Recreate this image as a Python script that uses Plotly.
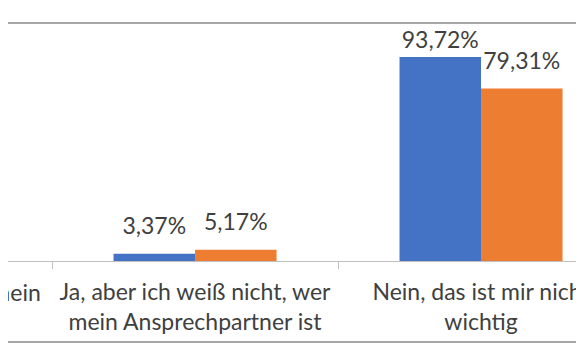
import plotly.graph_objects as go

# ---- data ----
categories = [
    "Ja, und ich weiß, wer mein Ansprechpartner ist",
    "Ja, aber ich weiß nicht, wer mein Ansprechpartner ist",
    "Nein, das ist mir nicht wichtig",
]
tick_labels = [
    "Ja, und ich weiß, wer mein<br>Ansprechpartner ist",
    "Ja, aber ich weiß nicht, wer<br>mein Ansprechpartner ist",
    "Nein, das ist mir nicht<br>wichtig",
]
series_a_name = "Serie 1"
series_b_name = "Serie 2"
series_a = [2.91, 3.37, 93.72]
series_b = [15.52, 5.17, 79.31]

# ---- style ----
BLUE = "#4472C4"
ORANGE = "#ED7D31"
TEXT = "#404040"
FONT = "Lato"
FS = 23
X_RANGE = [0.346, 2.388]
Y_RANGE = [0, 109.4]
GAP = 0.43
label_marker_a = [21, 21, 4]   # controls label lift above bar top
label_marker_b = [21, 21, 21]

fig = go.Figure()
fig.add_trace(go.Bar(x=categories, y=series_a, name=series_a_name,
                     marker=dict(color=BLUE, line=dict(width=0)), hoverinfo="skip"))
fig.add_trace(go.Bar(x=categories, y=series_b, name=series_b_name,
                     marker=dict(color=ORANGE, line=dict(width=0)), hoverinfo="skip"))

for vals, sizes in ((series_a, label_marker_a), (series_b, label_marker_b)):
    fig.add_trace(go.Scatter(
        x=categories, y=vals, mode="markers+text",
        text=[f"{v:.2f}".replace(".", ",") + "%" for v in vals],
        textposition="top center",
        textfont=dict(family=FONT, size=FS, color=TEXT),
        marker=dict(size=sizes, color="rgba(0,0,0,0)", line=dict(width=0)),
        cliponaxis=False, hoverinfo="skip", showlegend=False,
    ))

# label of the category that lies left of the visible window
span = X_RANGE[1] - X_RANGE[0]
fig.add_annotation(
    x=(0 - X_RANGE[0]) / span, xref="paper", xanchor="center",
    y=0, yref="paper", yanchor="top", yshift=-15,
    text=tick_labels[0], showarrow=False,
    font=dict(family=FONT, size=FS, color=TEXT), align="center",
)

# frame lines above and below the chart
fig.add_shape(type="line", xref="paper", yref="paper", x0=-0.02, x1=1, y0=1, y1=1,
              line=dict(color="#A6A6A6", width=2))
fig.add_shape(type="line", xref="paper", yref="paper", x0=-0.02, x1=1, y0=-0.340, y1=-0.340,
              line=dict(color="#A6A6A6", width=2))

fig.update_layout(
    width=584, height=360,
    margin=dict(l=0, r=0, t=15, b=107, autoexpand=False),
    paper_bgcolor="white", plot_bgcolor="white",
    barmode="group", bargap=GAP, bargroupgap=0,
    scattermode="group", scattergap=GAP,
    showlegend=False,
    font=dict(family=FONT, size=FS, color=TEXT),
    xaxis=dict(
        type="category", range=X_RANGE, automargin=False,
        tickmode="array", tickvals=categories, ticktext=tick_labels,
        tickson="boundaries", ticks="outside", ticklen=7, tickcolor="#BFBFBF",
        showline=True, linecolor="#BFBFBF", linewidth=1,
        showgrid=False, zeroline=False,
        tickfont=dict(family=FONT, size=FS, color=TEXT),
        ticklabelstandoff=10,
    ),
    yaxis=dict(range=Y_RANGE, visible=False, showgrid=False, zeroline=False,
               automargin=False),
)

fig.write_html("out.html", config={"displayModeBar": False})
